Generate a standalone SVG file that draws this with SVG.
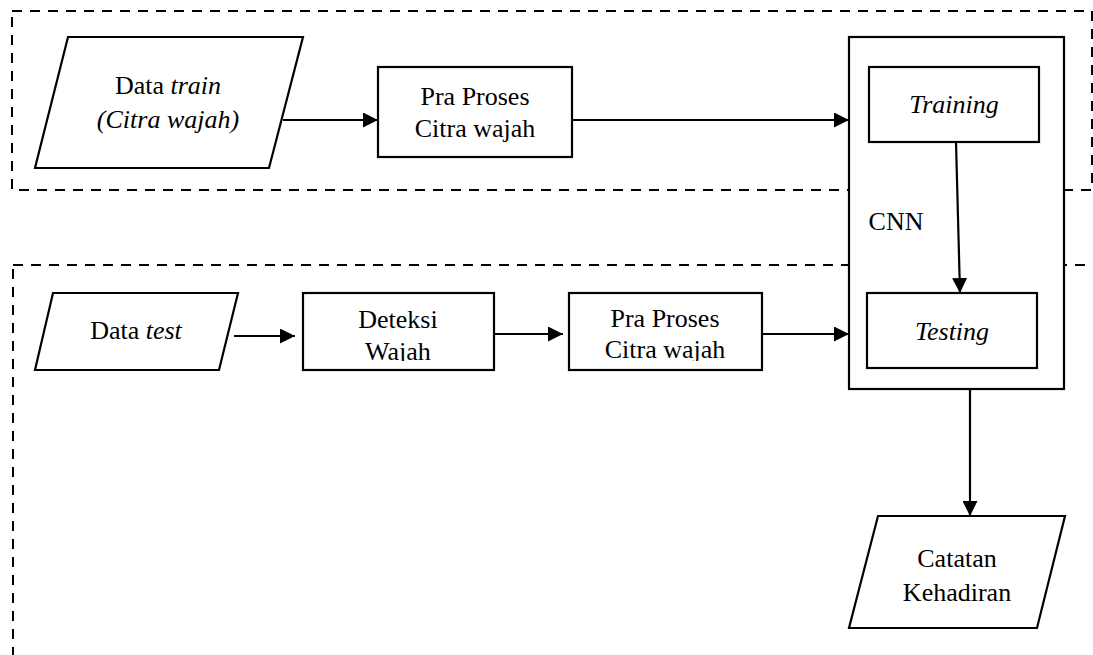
<svg xmlns="http://www.w3.org/2000/svg" width="1093" height="655" viewBox="0 0 1093 655">
<style>
.dash{fill:none;stroke:#000;stroke-width:2;stroke-dasharray:10 8}
.shape{fill:#fff;stroke:#000;stroke-width:2.2}
.line{fill:none;stroke:#000;stroke-width:2.2}
text{font-family:"Liberation Serif","Times New Roman",serif;font-size:26px;fill:#000;text-anchor:middle}
.it{font-style:italic}
</style>
<defs>
<marker id="arr" markerWidth="15" markerHeight="15" refX="15" refY="7.5" orient="auto" markerUnits="userSpaceOnUse">
<path d="M0,0 L15,7.5 L0,15 Z" fill="#000"/>
</marker>
<clipPath id="c1"><rect x="303" y="293" width="191" height="68"/></clipPath>
<clipPath id="c2"><rect x="569" y="293" width="193" height="68"/></clipPath>
</defs>
<rect width="1093" height="655" fill="#fff"/>
<g id="groups">
<rect class="dash" x="12" y="11" width="1080" height="179"/>
<rect class="dash" x="13" y="265" width="1090" height="420"/>
</g>
<g id="cnn">
<rect class="shape" x="849" y="37" width="215" height="352"/>
<text x="896" y="230">CNN</text>
</g>
<g id="training">
<rect class="shape" x="869" y="67" width="170" height="75"/>
<text class="it" x="954" y="113">Training</text>
</g>
<g id="testing">
<rect class="shape" x="867" y="293" width="170" height="75"/>
<text class="it" x="952" y="340">Testing</text>
</g>
<g id="data-train">
<polygon class="shape" points="68,37 303,37 269,168 35,168"/>
<text x="168" y="94">Data <tspan class="it">train</tspan></text>
<text class="it" x="168" y="128">(Citra wajah)</text>
</g>
<g id="pra-proses-1">
<rect class="shape" x="378" y="67" width="194" height="90"/>
<text x="475" y="105">Pra Proses</text>
<text x="475" y="137">Citra wajah</text>
</g>
<g id="data-test">
<polygon class="shape" points="53,293 238,293 219,370 35,370"/>
<text x="136" y="339">Data <tspan class="it">test</tspan></text>
</g>
<g id="deteksi-wajah">
<rect class="shape" x="303" y="293" width="191" height="77"/>
<g clip-path="url(#c1)">
<text x="398" y="328">Deteksi</text>
<text x="398" y="360">Wajah</text>
</g>
</g>
<g id="pra-proses-2">
<rect class="shape" x="569" y="293" width="193" height="77"/>
<g clip-path="url(#c2)">
<text x="665" y="327">Pra Proses</text>
<text x="665" y="358">Citra wajah</text>
</g>
</g>
<g id="catatan-kehadiran">
<polygon class="shape" points="878,516 1065,516 1037,628 849,628"/>
<text x="957" y="567">Catatan</text>
<text x="957" y="601">Kehadiran</text>
</g>
<g id="connectors">
<line class="line" x1="283" y1="120" x2="378" y2="120" marker-end="url(#arr)"/>
<line class="line" x1="572" y1="120" x2="849" y2="120" marker-end="url(#arr)"/>
<line class="line" x1="956" y1="142" x2="960" y2="293" marker-end="url(#arr)"/>
<line class="line" x1="234" y1="336" x2="295" y2="336" marker-end="url(#arr)"/>
<line class="line" x1="494" y1="334" x2="563" y2="334" marker-end="url(#arr)"/>
<line class="line" x1="762" y1="334" x2="849" y2="334" marker-end="url(#arr)"/>
<line class="line" x1="970" y1="389" x2="970" y2="516" marker-end="url(#arr)"/>
</g>
</svg>
